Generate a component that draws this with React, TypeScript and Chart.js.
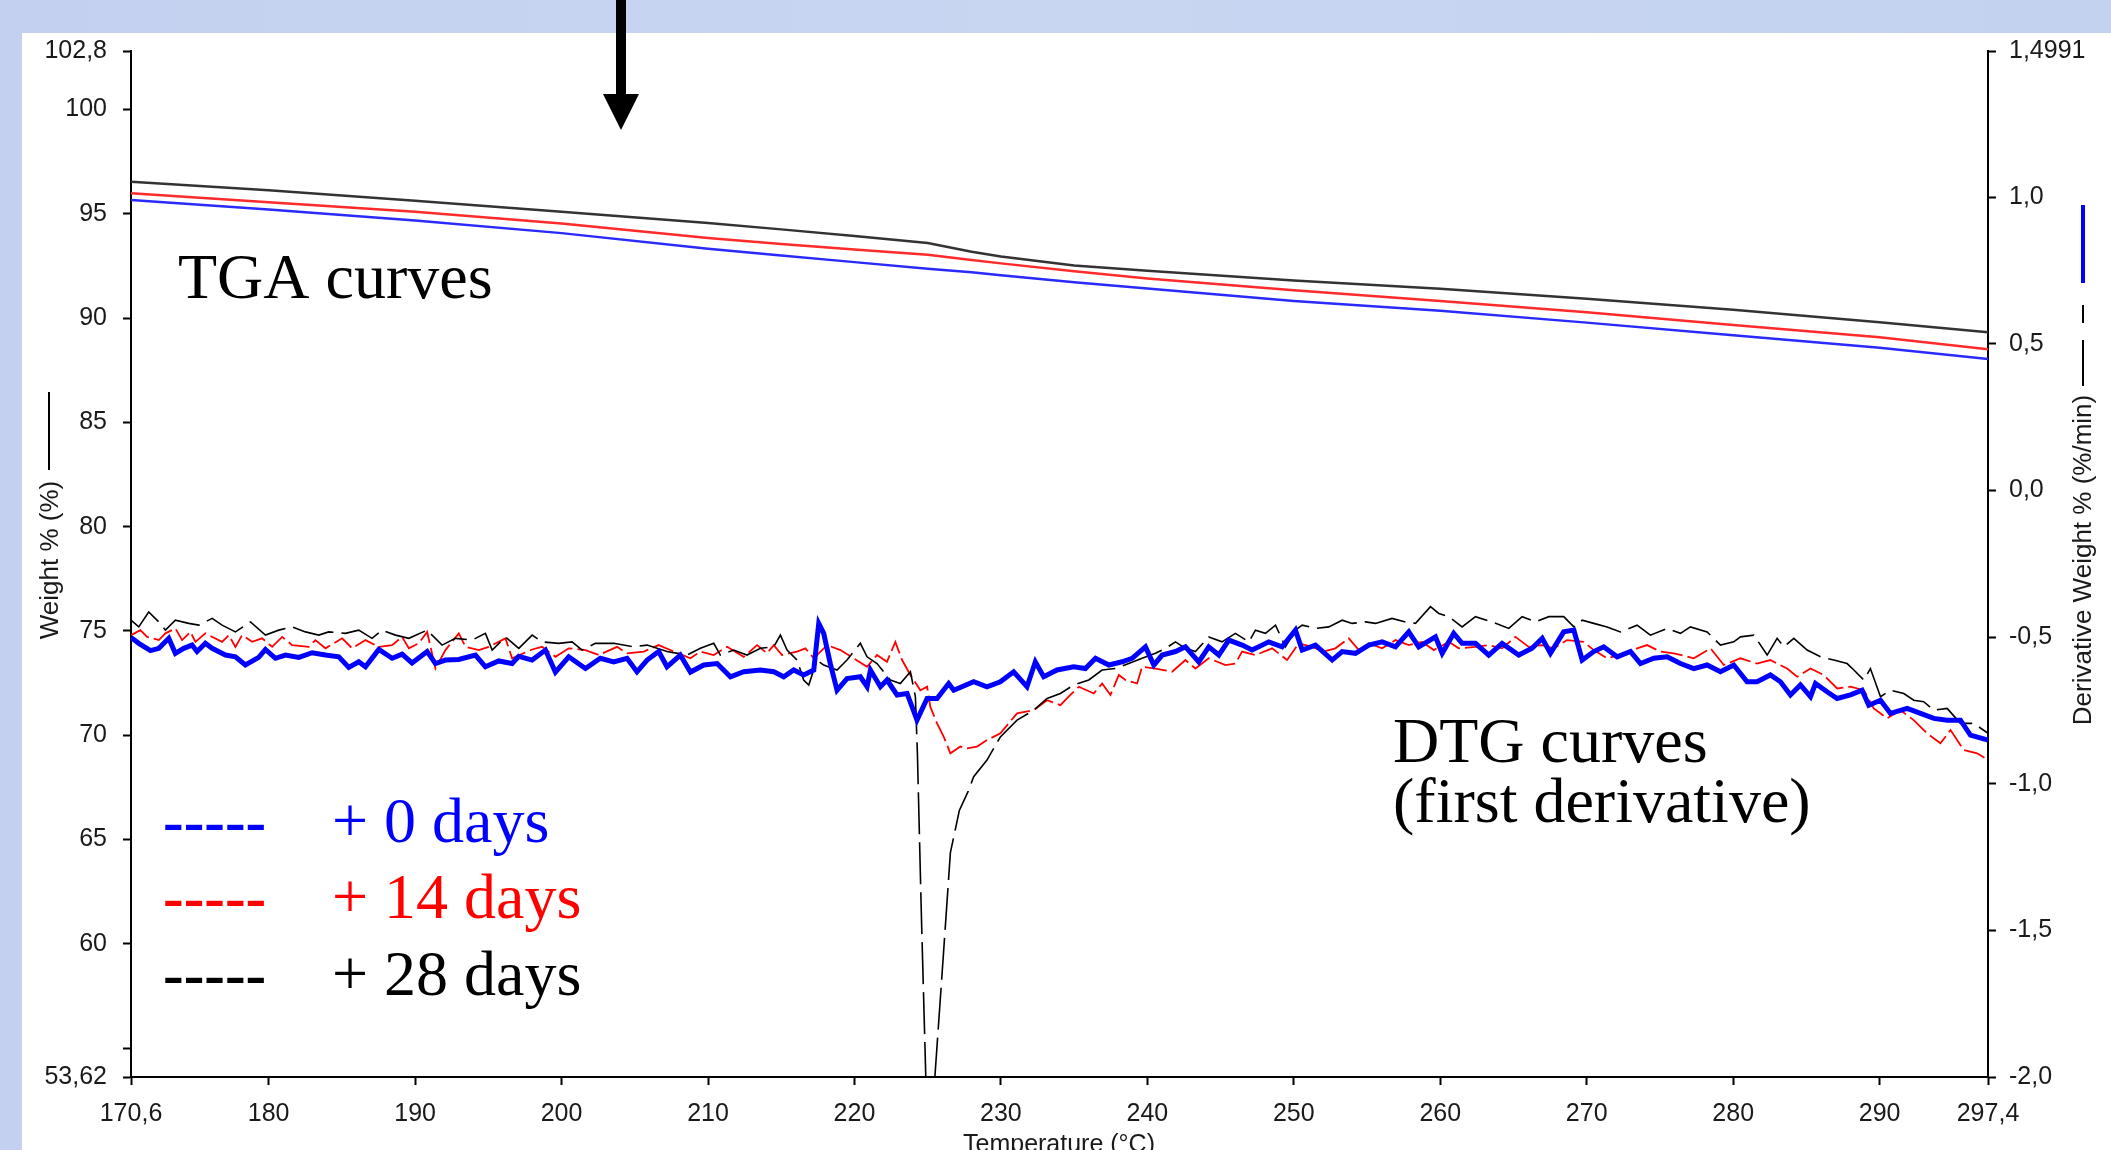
import React, { useEffect, useRef } from 'react';
import { Chart, registerables } from 'chart.js';

Chart.register(...registerables);

const W = 2111;
const H = 1150;

// Axis ticks
const xTicks = [170.6, 180, 190, 200, 210, 220, 230, 240, 250, 260, 270, 280, 290, 297.4];
const xTickLabels = ['170,6', '180', '190', '200', '210', '220', '230', '240', '250', '260', '270', '280', '290', '297,4'];
const yTicks = [53.62, 55, 60, 65, 70, 75, 80, 85, 90, 95, 100, 102.8];
const yTickLabels = ['53,62', '', '60', '65', '70', '75', '80', '85', '90', '95', '100', '102,8'];
const y1Ticks = [-2, -1.5, -1, -0.5, 0, 0.5, 1, 1.4991];
const y1TickLabels = ['-2,0', '-1,5', '-1,0', '-0,5', '0,0', '0,5', '1,0', '1,4991'];

// TGA curves (Weight %, left axis)
const tgaTemps = [170.6, 180, 190, 200, 210, 215, 220, 225, 228, 230, 235, 240, 250, 260, 270, 280, 290, 297.4];
const tga0 = [95.66, 95.2, 94.68, 94.07, 93.32, 93.0, 92.68, 92.36, 92.2, 92.05, 91.72, 91.42, 90.82, 90.35, 89.78, 89.18, 88.58, 88.04];
const tga14 = [95.98, 95.55, 95.1, 94.53, 93.84, 93.55, 93.28, 93.03, 92.78, 92.62, 92.24, 91.9, 91.33, 90.82, 90.28, 89.67, 89.08, 88.5];
const tga28 = [96.53, 96.12, 95.62, 95.09, 94.55, 94.25, 93.93, 93.6, 93.18, 92.95, 92.52, 92.27, 91.8, 91.4, 90.92, 90.4, 89.8, 89.32];

// DTG curves (Derivative weight %/min, right axis) as [temperature, value]
const dtg0: [number, number][] = [
  [170.6, -0.501], [171.13, -0.521], [171.93, -0.546], [172.5, -0.538], [173.18, -0.504], [173.63, -0.555], [174.2, -0.538], [174.77, -0.527], [175.11, -0.549], [175.68, -0.521], [176.14, -0.538], [177.05, -0.561], [177.73, -0.567], [178.41, -0.595], [179.32, -0.569], [179.78, -0.542], [180.46, -0.572], [181.15, -0.561], [182.06, -0.569], [182.97, -0.553], [183.88, -0.561], [184.79, -0.567], [185.47, -0.603], [186.15, -0.584], [186.61, -0.601], [187.52, -0.542], [188.43, -0.572], [189.11, -0.558], [189.79, -0.588], [190.82, -0.549], [191.39, -0.59], [192.07, -0.578], [192.98, -0.576], [194.12, -0.561], [194.8, -0.601], [195.71, -0.581], [196.62, -0.59], [197.08, -0.565], [197.99, -0.578], [198.9, -0.544], [199.58, -0.619], [200.49, -0.567], [201.63, -0.607],
  [202.65, -0.572], [203.56, -0.584], [204.47, -0.572], [205.15, -0.618], [205.84, -0.578], [206.63, -0.549], [207.2, -0.601], [208.11, -0.561], [208.8, -0.619], [209.71, -0.595], [210.62, -0.59], [211.53, -0.635], [212.44, -0.618], [213.58, -0.612], [214.49, -0.618], [215.17, -0.635], [215.85, -0.612], [216.53, -0.629], [217.22, -0.612], [217.56, -0.453], [217.9, -0.487], [218.35, -0.59], [218.81, -0.681], [219.49, -0.641], [220.4, -0.635], [220.86, -0.669], [221.09, -0.612], [221.77, -0.669], [222.22, -0.646], [222.91, -0.697], [223.59, -0.692], [224.27, -0.783], [224.96, -0.709], [225.64, -0.709], [226.43, -0.658], [226.78, -0.681], [228.14, -0.652], [229.05, -0.669], [229.96, -0.652], [230.87, -0.618], [231.78, -0.669], [232.35, -0.584], [232.92, -0.635], [233.83, -0.612], [234.97, -0.601],
  [235.77, -0.607], [236.46, -0.572], [237.37, -0.595], [238.28, -0.584], [238.96, -0.572], [239.87, -0.533], [240.44, -0.595], [241.01, -0.561], [241.92, -0.549], [242.6, -0.533], [243.51, -0.584], [244.19, -0.533], [244.88, -0.561], [245.56, -0.51], [246.47, -0.527], [247.15, -0.544], [248.29, -0.516], [249.2, -0.533], [250.11, -0.476], [250.57, -0.544], [251.48, -0.527], [252.62, -0.578], [253.3, -0.549], [254.21, -0.555], [255.12, -0.527], [256.03, -0.516], [256.94, -0.533], [257.85, -0.482], [258.53, -0.533], [259.67, -0.499], [260.13, -0.555], [260.92, -0.487], [261.49, -0.521], [262.4, -0.521], [263.31, -0.561], [264.22, -0.521], [265.36, -0.561], [266.27, -0.538], [266.96, -0.504],
  [267.52, -0.555], [268.43, -0.482], [269.12, -0.476], [269.69, -0.578], [270.48, -0.549], [271.16, -0.533], [272.08, -0.567], [272.99, -0.549], [273.67, -0.59], [274.58, -0.572], [275.49, -0.567], [276.4, -0.59], [277.31, -0.607], [278.22, -0.595], [279.13, -0.618], [280.04, -0.595], [280.95, -0.652], [281.63, -0.652], [282.54, -0.629], [283.23, -0.652], [283.91, -0.697], [284.59, -0.663], [285.28, -0.703], [285.62, -0.658], [286.41, -0.686], [287.1, -0.709], [288.01, -0.697], [288.8, -0.681], [289.26, -0.732], [290.06, -0.715], [290.74, -0.76], [291.88, -0.743], [292.79, -0.76], [293.7, -0.777], [294.61, -0.783], [295.52, -0.783], [296.2, -0.834], [297.4, -0.851],
];

const dtg14: [number, number][] = [
  [170.6, -0.493], [171.24, -0.476], [171.7, -0.499], [172.5, -0.51], [172.95, -0.487], [173.63, -0.47], [174.09, -0.51], [174.66, -0.482], [175.0, -0.516], [175.68, -0.487], [176.82, -0.516], [177.28, -0.493], [177.73, -0.533], [178.19, -0.493], [178.87, -0.516], [179.55, -0.504], [180.24, -0.533], [180.92, -0.499], [181.6, -0.527], [182.74, -0.533], [183.19, -0.51], [183.88, -0.538], [185.02, -0.504], [185.7, -0.538], [186.61, -0.51], [187.52, -0.533], [188.43, -0.527], [189.11, -0.499], [189.57, -0.538], [190.25, -0.521], [190.82, -0.482], [191.39, -0.607], [192.07, -0.544], [192.98, -0.487], [193.44, -0.533], [194.35, -0.544], [195.03, -0.533], [196.17, -0.504], [196.62, -0.572], [197.99, -0.542], [198.67, -0.533], [199.58, -0.567], [200.49, -0.538], [201.63, -0.544], [202.54, -0.561],
  [203.79, -0.533], [204.47, -0.555], [205.61, -0.549], [206.63, -0.527], [207.66, -0.549], [208.8, -0.572], [209.48, -0.549], [210.39, -0.561], [211.3, -0.533], [212.44, -0.567], [213.35, -0.527], [214.03, -0.555], [214.49, -0.527], [215.05, -0.561], [216.08, -0.549], [216.65, -0.538], [217.22, -0.572], [218.13, -0.527], [219.04, -0.544], [220.86, -0.601], [221.54, -0.561], [222.22, -0.584], [222.79, -0.516], [223.25, -0.578], [223.82, -0.629], [224.5, -0.681], [224.96, -0.669], [225.18, -0.738], [225.64, -0.794], [226.09, -0.839], [226.55, -0.896], [227.23, -0.873], [227.69, -0.879], [228.37, -0.873], [229.05, -0.851], [229.96, -0.828], [231.1, -0.76], [232.24, -0.749], [233.15, -0.715], [234.06, -0.732], [234.74, -0.697],
  [235.32, -0.669], [236.34, -0.692], [236.91, -0.658], [237.48, -0.697], [238.05, -0.629], [238.5, -0.646], [239.3, -0.658], [239.64, -0.601], [240.55, -0.607], [241.69, -0.618], [242.6, -0.578], [243.28, -0.607], [244.19, -0.572], [245.33, -0.595], [246.01, -0.59], [246.47, -0.549], [247.38, -0.561], [248.52, -0.538], [249.54, -0.578], [250.34, -0.521], [251.25, -0.533], [252.05, -0.549], [252.84, -0.538], [253.75, -0.504], [254.44, -0.544], [255.12, -0.521], [256.03, -0.538], [256.94, -0.51], [257.85, -0.527], [258.76, -0.516], [259.56, -0.544], [260.58, -0.516], [261.26, -0.538], [262.4, -0.533], [263.31, -0.527], [264.22, -0.538], [265.13, -0.499], [266.04, -0.533], [266.96, -0.527],
  [267.75, -0.538], [268.66, -0.51], [269.8, -0.516], [270.48, -0.544], [271.39, -0.572], [272.3, -0.561], [273.44, -0.538], [274.12, -0.527], [275.03, -0.549], [275.94, -0.555], [277.31, -0.572], [278.45, -0.538], [279.36, -0.595], [280.5, -0.572], [281.63, -0.59], [282.54, -0.578], [283.68, -0.607], [284.37, -0.635], [285.28, -0.607], [286.19, -0.629], [287.1, -0.675], [288.01, -0.669], [288.92, -0.681], [289.6, -0.743], [290.51, -0.777], [291.42, -0.749], [292.33, -0.783], [293.24, -0.828], [294.15, -0.862], [294.84, -0.817], [295.75, -0.885], [296.66, -0.896], [297.4, -0.919],
];

const dtg28: [number, number][] = [
  [170.6, -0.442], [171.13, -0.465], [171.81, -0.414], [172.5, -0.448], [172.95, -0.476], [173.63, -0.442], [174.54, -0.453], [175.23, -0.459], [176.14, -0.436], [176.82, -0.459], [177.73, -0.482], [178.76, -0.448], [179.78, -0.493], [180.69, -0.476], [181.6, -0.465], [182.51, -0.482], [183.42, -0.493], [184.1, -0.482], [185.24, -0.487], [186.15, -0.476], [187.06, -0.504], [187.75, -0.476], [188.66, -0.493], [189.57, -0.504], [190.82, -0.476], [191.84, -0.527], [192.75, -0.504], [193.89, -0.51], [194.8, -0.487], [195.26, -0.544], [196.17, -0.499], [197.08, -0.538], [197.99, -0.493], [198.67, -0.516], [199.81, -0.521], [200.72, -0.516], [201.4, -0.544], [202.31, -0.521],
  [203.56, -0.521], [204.93, -0.533], [205.84, -0.527], [207.2, -0.549], [208.57, -0.561], [209.48, -0.538], [210.39, -0.521], [210.84, -0.561], [211.75, -0.544], [212.66, -0.561], [213.58, -0.538], [214.49, -0.533], [214.94, -0.493], [215.4, -0.544], [216.08, -0.578], [216.53, -0.646], [216.88, -0.663], [217.44, -0.578], [217.9, -0.595], [218.81, -0.612], [219.49, -0.578], [220.4, -0.521], [220.86, -0.567], [221.54, -0.59], [222.45, -0.646], [223.13, -0.658], [223.82, -0.618], [224.16, -0.703],
  [224.3, -0.9], [224.57, -1.45], [224.87, -2.0], [225.18, -2.2], [225.49, -2.0], [226.09, -1.57], [226.55, -1.235], [227.16, -1.091], [227.77, -1.025], [228.14, -0.976], [229.05, -0.919], [229.96, -0.84], [231.1, -0.783], [232.24, -0.749], [233.15, -0.709], [234.06, -0.692], [234.97, -0.663],
  [236.0, -0.646], [236.91, -0.612], [237.82, -0.607], [238.73, -0.59], [239.64, -0.572], [240.55, -0.555], [241.24, -0.538], [241.92, -0.516], [242.6, -0.538], [243.28, -0.549], [244.19, -0.499], [245.1, -0.516], [246.01, -0.487], [246.93, -0.516], [247.38, -0.476], [248.06, -0.487], [248.75, -0.459], [249.43, -0.533], [250.11, -0.476], [250.57, -0.459], [251.48, -0.47], [252.39, -0.465], [253.3, -0.442], [253.98, -0.453], [254.89, -0.448], [255.58, -0.453], [256.71, -0.436], [257.62, -0.448], [258.31, -0.453], [259.33, -0.396], [259.9, -0.419], [260.58, -0.43], [261.49, -0.465], [262.4, -0.43], [263.54, -0.448], [264.68, -0.47], [265.59, -0.43], [266.5, -0.448], [267.41, -0.43],
  [268.43, -0.43], [269.12, -0.465], [269.69, -0.442], [270.48, -0.453], [271.39, -0.465], [272.3, -0.482], [273.44, -0.459], [274.35, -0.493], [275.49, -0.47], [276.4, -0.487], [277.08, -0.465], [278.22, -0.482], [279.13, -0.527], [280.04, -0.516], [280.5, -0.499], [281.41, -0.493], [282.32, -0.561], [283.0, -0.504], [283.46, -0.533], [284.14, -0.504], [285.05, -0.544], [285.96, -0.567], [286.87, -0.578], [287.78, -0.59], [288.24, -0.612], [288.92, -0.646], [289.37, -0.607], [290.06, -0.703], [290.74, -0.681], [291.65, -0.692], [292.33, -0.715], [293.01, -0.72], [293.7, -0.749], [294.61, -0.743], [295.52, -0.794], [296.43, -0.794], [297.4, -0.828],
];

const legendItems = [
  { label: '+ 0 days', color: '#0000ff' },
  { label: '+ 14 days', color: '#ff0000' },
  { label: '+ 28 days', color: '#000000' },
];

const SANS = '"Liberation Sans", Arial, sans-serif';
const SERIF = '"Liberation Serif", "Times New Roman", serif';

const backgroundPlugin = {
  id: 'pageBackground',
  beforeDraw(chart: any) {
    const ctx = chart.ctx as CanvasRenderingContext2D;
    ctx.save();
    const g = ctx.createLinearGradient(0, 0, W, 0);
    g.addColorStop(0, '#c4d0ef');
    g.addColorStop(0.5, '#c8d6f2');
    g.addColorStop(1, '#c3d2ef');
    ctx.fillStyle = g;
    ctx.fillRect(0, 0, W, H);
    ctx.fillStyle = '#ffffff';
    ctx.fillRect(22, 33, W - 22, H - 33);
    ctx.restore();
  },
};

const annotationPlugin = {
  id: 'annotations',
  afterDraw(chart: any) {
    const ctx = chart.ctx as CanvasRenderingContext2D;
    ctx.save();

    // Arrow
    ctx.fillStyle = '#000';
    ctx.fillRect(616, 0, 10, 96);
    ctx.beginPath();
    ctx.moveTo(603, 94);
    ctx.lineTo(639, 94);
    ctx.lineTo(621, 130);
    ctx.closePath();
    ctx.fill();

    // Axis titles
    ctx.fillStyle = '#1a1a1a';
    ctx.font = `26px ${SANS}`;
    ctx.textAlign = 'center';
    ctx.textBaseline = 'middle';
    ctx.save();
    ctx.translate(51, 560);
    ctx.rotate(-Math.PI / 2);
    ctx.fillText('Weight % (%)', 0, 0);
    ctx.restore();
    ctx.strokeStyle = '#000';
    ctx.lineWidth = 2;
    ctx.beginPath();
    ctx.moveTo(49, 392);
    ctx.lineTo(49, 470);
    ctx.stroke();

    ctx.save();
    ctx.translate(2084, 560);
    ctx.rotate(-Math.PI / 2);
    ctx.fillText('Derivative Weight % (%/min)', 0, 0);
    ctx.restore();
    ctx.beginPath();
    ctx.moveTo(2083, 305);
    ctx.lineTo(2083, 323);
    ctx.moveTo(2083, 340);
    ctx.lineTo(2083, 386);
    ctx.stroke();
    ctx.strokeStyle = '#0000ff';
    ctx.lineWidth = 4;
    ctx.beginPath();
    ctx.moveTo(2083, 205);
    ctx.lineTo(2083, 283);
    ctx.stroke();

    ctx.font = `25px ${SANS}`;
    ctx.textBaseline = 'alphabetic';
    ctx.fillText('Temperature (°C)', 1059, 1152);

    // Big annotations
    ctx.textAlign = 'left';
    ctx.fillStyle = '#000';
    ctx.font = `64px ${SERIF}`;
    ctx.fillText('TGA curves', 178, 298);
    ctx.fillText('DTG curves', 1393, 762);
    ctx.fillText('(first derivative)', 1393, 822);

    const baselines = [842, 918, 995];
    legendItems.forEach((item, i) => {
      ctx.fillStyle = item.color;
      ctx.font = `bold 62px ${SERIF}`;
      ctx.fillText('-----', 163, baselines[i]);
      ctx.font = `64px ${SERIF}`;
      ctx.fillText(item.label, 332, baselines[i]);
    });

    ctx.restore();
  },
};

function tickAxis(values: number[], labels: string[]) {
  return {
    afterBuildTicks: (scale: any) => {
      scale.ticks = values.map((v) => ({ value: v }));
    },
    callback: (v: number) => {
      const i = values.indexOf(v);
      return i >= 0 ? labels[i] : '';
    },
  };
}

export default function App() {
  const ref = useRef<HTMLCanvasElement | null>(null);

  useEffect(() => {
    document.body.style.margin = '0';
    document.body.style.overflow = 'hidden';
    const canvas = ref.current;
    if (!canvas) return;

    const xt = tickAxis(xTicks, xTickLabels);
    const yt = tickAxis(yTicks, yTickLabels);
    const y1t = tickAxis(y1Ticks, y1TickLabels);

    const toPts = (t: number[], v: number[]) => t.map((x, i) => ({ x, y: v[i] }));
    const pairPts = (p: [number, number][]) => p.map(([x, y]) => ({ x, y }));

    const tickFont = { family: SANS, size: 25 };

    const chart = new Chart(canvas, {
      type: 'line',
      data: {
        datasets: [
          { label: 'DTG +0', data: pairPts(dtg0), yAxisID: 'y1', borderColor: '#0000ff', borderWidth: 5, pointRadius: 0, tension: 0, order: 0 },
          { label: 'DTG +14', data: pairPts(dtg14), yAxisID: 'y1', borderColor: '#ff0000', borderWidth: 1.8, borderDash: [22, 5], pointRadius: 0, tension: 0, order: 2 },
          { label: 'DTG +28', data: pairPts(dtg28), yAxisID: 'y1', borderColor: '#000000', borderWidth: 1.6, borderDash: [42, 8], pointRadius: 0, tension: 0, order: 1 },
          { label: 'TGA +0', data: toPts(tgaTemps, tga0), yAxisID: 'y', borderColor: '#2a2aff', borderWidth: 2.5, pointRadius: 0, tension: 0, order: 3 },
          { label: 'TGA +14', data: toPts(tgaTemps, tga14), yAxisID: 'y', borderColor: '#ff2a2a', borderWidth: 2.5, pointRadius: 0, tension: 0, order: 3 },
          { label: 'TGA +28', data: toPts(tgaTemps, tga28), yAxisID: 'y', borderColor: '#333333', borderWidth: 2.5, pointRadius: 0, tension: 0, order: 3 },
        ],
      },
      options: {
        responsive: false,
        animation: false,
        devicePixelRatio: 1,
        events: [],
        layout: { padding: { top: 51, left: 0, right: 0, bottom: 0 } },
        plugins: { legend: { display: false }, tooltip: { enabled: false }, title: { display: false } },
        scales: {
          x: {
            type: 'linear',
            min: 170.6,
            max: 297.4,
            afterBuildTicks: xt.afterBuildTicks,
            afterFit: (s: any) => { s.height = 73; },
            ticks: { callback: xt.callback, font: tickFont, color: '#1a1a1a', padding: 14, autoSkip: false, maxRotation: 0, minRotation: 0 },
            grid: { drawOnChartArea: false, drawTicks: true, tickLength: 8, tickWidth: 2, tickColor: '#000' },
            border: { display: true, color: '#000', width: 2 },
          },
          y: {
            type: 'linear',
            position: 'left',
            min: 53.62,
            max: 102.8,
            afterBuildTicks: yt.afterBuildTicks,
            afterFit: (s: any) => { s.width = 131; },
            ticks: { callback: yt.callback, font: tickFont, color: '#1a1a1a', padding: 16, autoSkip: false },
            grid: { drawOnChartArea: false, drawTicks: true, tickLength: 8, tickWidth: 2, tickColor: '#000' },
            border: { display: true, color: '#000', width: 2 },
          },
          y1: {
            type: 'linear',
            position: 'right',
            min: -2,
            max: 1.4991,
            afterBuildTicks: y1t.afterBuildTicks,
            afterFit: (s: any) => { s.width = 123; },
            ticks: { callback: y1t.callback, font: tickFont, color: '#1a1a1a', padding: 13, autoSkip: false },
            grid: { drawOnChartArea: false, drawTicks: true, tickLength: 8, tickWidth: 2, tickColor: '#000' },
            border: { display: true, color: '#000', width: 2 },
          },
        },
      } as any,
      plugins: [backgroundPlugin, annotationPlugin],
    });

    return () => chart.destroy();
  }, []);

  return <canvas ref={ref} width={W} height={H} style={{ display: 'block', width: W, height: H }} />;
}
